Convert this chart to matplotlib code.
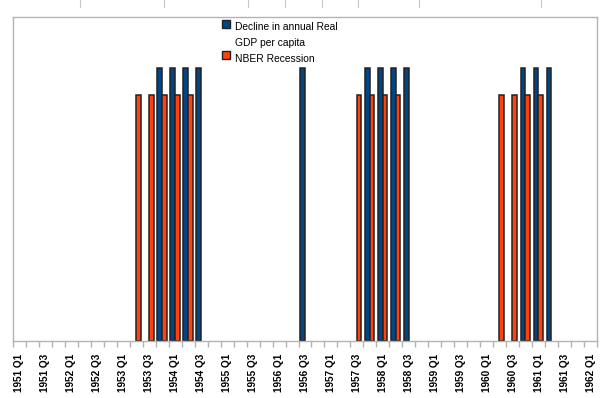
import matplotlib
matplotlib.use("Agg")
import matplotlib.pyplot as plt
from matplotlib.patches import Rectangle
from matplotlib.lines import Line2D
import numpy as np

plt.rcParams['font.family'] = ['Liberation Sans', 'DejaVu Sans']

# quarterly categories, 1951 Q1 .. 1962 Q1
quarters = [
    '1951 Q1', '1951 Q2', '1951 Q3', '1951 Q4',
    '1952 Q1', '1952 Q2', '1952 Q3', '1952 Q4',
    '1953 Q1', '1953 Q2', '1953 Q3', '1953 Q4',
    '1954 Q1', '1954 Q2', '1954 Q3', '1954 Q4',
    '1955 Q1', '1955 Q2', '1955 Q3', '1955 Q4',
    '1956 Q1', '1956 Q2', '1956 Q3', '1956 Q4',
    '1957 Q1', '1957 Q2', '1957 Q3', '1957 Q4',
    '1958 Q1', '1958 Q2', '1958 Q3', '1958 Q4',
    '1959 Q1', '1959 Q2', '1959 Q3', '1959 Q4',
    '1960 Q1', '1960 Q2', '1960 Q3', '1960 Q4',
    '1961 Q1', '1961 Q2', '1961 Q3', '1961 Q4',
    '1962 Q1',
]

# Decline in annual real GDP per capita (indicator bar height 1)
gdp_decline = [
    0, 0, 0, 0,   0, 0, 0, 0,   0, 0, 0, 1,   1, 1, 1, 0,
    0, 0, 0, 0,   0, 0, 1, 0,   0, 0, 0, 1,   1, 1, 1, 0,
    0, 0, 0, 0,   0, 0, 0, 1,   1, 1, 0, 0,   0,
]

# NBER recession quarters (indicator bar height 0.9)
nber_recession = [
    0, 0, 0, 0,   0, 0, 0, 0,   0, 0.9, 0.9, 0.9,   0.9, 0.9, 0, 0,
    0, 0, 0, 0,   0, 0, 0, 0,   0, 0, 0.9, 0.9,   0.9, 0.9, 0, 0,
    0, 0, 0, 0,   0, 0.9, 0.9, 0.9,   0.9, 0, 0, 0,   0,
]

blue = '#004586'
orange = '#ff420e'
edge = '#222222'
grey = '#b3b3b3'

fig = plt.figure(figsize=(6.06, 3.98), dpi=100)
ax = fig.add_axes([13 / 606, 57 / 398, 584 / 606, 324 / 398])

x = np.arange(len(quarters))
w = 0.37
gd = np.array(gdp_decline, dtype=float)
nb = np.array(nber_recession, dtype=float)
ax.bar(x[gd > 0] - w / 2 - 0.02, gd[gd > 0], w, color=blue, edgecolor=edge, linewidth=1.1)
ax.bar(x[nb > 0] + w / 2 - 0.02, nb[nb > 0], w, color=orange, edgecolor=edge, linewidth=1.1)

ax.set_xlim(-0.5, len(quarters) - 0.5)
ax.set_ylim(0, 1.187)
ax.set_yticks([])

ax.set_xticks(x[::2])
ax.set_xticklabels(quarters[::2], rotation=90, fontsize=7.2, fontweight='bold')
ax.set_xticks(np.arange(len(quarters) + 1) - 0.5, minor=True)
ax.tick_params(axis='x', which='major', length=0, pad=9)
ax.tick_params(axis='x', which='minor', length=4, width=1, color=grey)

for s in ax.spines.values():
    s.set_color(grey)
    s.set_linewidth(1.0)

# legend (drawn by hand so the handle sits on the first text line)
W, H = 606, 398
for y_top, col in [(20, blue), (51, orange)]:
    fig.patches.append(Rectangle((222 / W, 1 - (y_top + 8) / H), 8 / W, 8 / H,
                                 transform=fig.transFigure, facecolor=col,
                                 edgecolor=edge, linewidth=1.0))
fig.text(235 / W, 1 - 30.5 / H, 'Decline in annual Real', fontsize=7.4, va='baseline')
fig.text(235 / W, 1 - 46.5 / H, 'GDP per capita', fontsize=7.4, va='baseline')
fig.text(235 / W, 1 - 62.5 / H, 'NBER Recession', fontsize=7.4, va='baseline')

# stray cell-border marks along the top edge
for px in [80, 164, 248, 285, 322, 358, 419, 541]:
    fig.lines.append(Line2D([px / W, px / W], [1, 1 - 7 / H], transform=fig.transFigure,
                            color='#c8c8c8', linewidth=0.8))

fig.savefig('out.png', dpi=100, facecolor='white')
